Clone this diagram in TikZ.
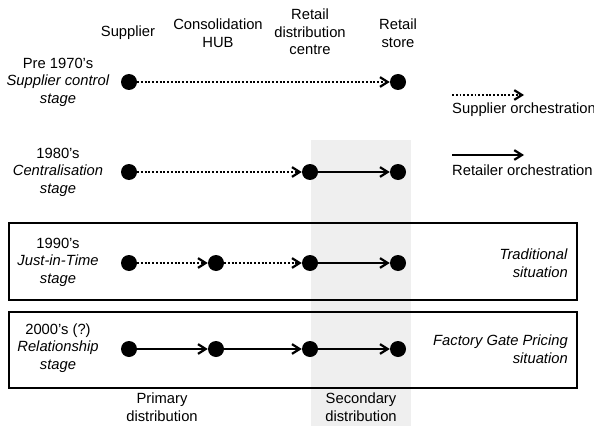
\documentclass[tikz,border=0pt]{standalone}
\usepackage{fontspec}
\setmainfont{Liberation Sans}
\usetikzlibrary{arrows.meta,positioning}
\definecolor{bandgray}{RGB}{239,239,239}

\tikzset{
  dot/.style={circle, fill=black, minimum size=0.48cm, inner sep=0pt},
  supplyflow/.style={-{Straight Barb[length=2.3mm,width=2.9mm,line width=1.9pt]}, line width=2pt, dash pattern=on 1.6pt off 1.6pt},
  retailflow/.style={-{Straight Barb[length=2.3mm,width=2.9mm,line width=1.9pt]}, line width=1.8pt},
  lbl/.style={align=center, inner sep=0pt, font=\fontsize{12.6}{15}\selectfont},
  stagebox/.style={draw, line width=1.2pt},
}

\begin{document}
\begin{tikzpicture}[x=0.03cm, y=-0.03cm]
    \useasboundingbox (0,0) rectangle (594,426);
    % shaded band for secondary distribution
    \fill[bandgray] (311,140) rectangle (411,426);
    \draw[stagebox] (9,223) rectangle (577,300);
    \draw[stagebox] (9,312) rectangle (577,388);

    % column headings
    \node[lbl] (hsup) at (128,33) {Supplier};
    \node[lbl] (hhub) at (218,33) {Consolidation\\HUB};
    \node[lbl] (hrdc) at (310,32) {Retail\\distribution\\centre};
    \node[lbl] (hrs) at (398,33) {Retail\\store};

    % stage labels
    \node[lbl] (st1) at (58,82) {Pre 1970's\\\textit{Supplier control}\\\textit{stage}};
    \node[lbl] (st2) at (58,172) {1980's\\\textit{Centralisation}\\\textit{stage}};
    \node[lbl] (st3) at (58,262) {1990's\\\textit{Just-in-Time}\\\textit{stage}};
    \node[lbl] (st4) at (58,348) {2000's (?)\\\textit{Relationship}\\\textit{stage}};

    % Pre 1970
    \node[dot] (a1) at (129,82) {};
    \node[dot] (a4) at (398,82) {};
    \draw[supplyflow] (a1) -- (a4);

    % 1980
    \node[dot] (b1) at (129,172) {};
    \node[dot] (b3) at (310,172) {};
    \node[dot] (b4) at (398,172) {};
    \draw[supplyflow] (b1) -- (b3);
    \draw[retailflow] (b3) -- (b4);

    % 1990
    \node[dot] (c1) at (129,263) {};
    \node[dot] (c2) at (216,263) {};
    \node[dot] (c3) at (310,263) {};
    \node[dot] (c4) at (398,263) {};
    \draw[supplyflow] (c1) -- (c2);
    \draw[supplyflow] (c2) -- (c3);
    \draw[retailflow] (c3) -- (c4);

    % 2000
    \node[dot] (d1) at (129,349) {};
    \node[dot] (d2) at (216,349) {};
    \node[dot] (d3) at (310,349) {};
    \node[dot] (d4) at (398,349) {};
    \draw[retailflow] (d1) -- (d2);
    \draw[retailflow] (d2) -- (d3);
    \draw[retailflow] (d3) -- (d4);

    % legend
    \coordinate (ls1) at (452,95);
    \coordinate (ls2) at (524,95);
    \draw[supplyflow] (ls1) -- (ls2);
    \node[lbl, anchor=north west] (lsup) at (452,103) {Supplier orchestration};
    \coordinate (lr1) at (452,155);
    \coordinate (lr2) at (524,155);
    \draw[retailflow] (lr1) -- (lr2);
    \node[lbl, anchor=north west] (lret) at (452,165) {Retailer orchestration};

    % situations
    \node[lbl, align=right, anchor=east] (sit1) at (568,263) {\textit{Traditional}\\\textit{situation}};
    \node[lbl, align=right, anchor=east] (sit2) at (568,349) {\textit{Factory Gate Pricing}\\\textit{situation}};

    % distribution labels
    \node[lbl] (prim) at (162,407) {Primary\\distribution};
    \node[lbl] (sec) at (361,407) {Secondary\\distribution};
\end{tikzpicture}
\end{document}
